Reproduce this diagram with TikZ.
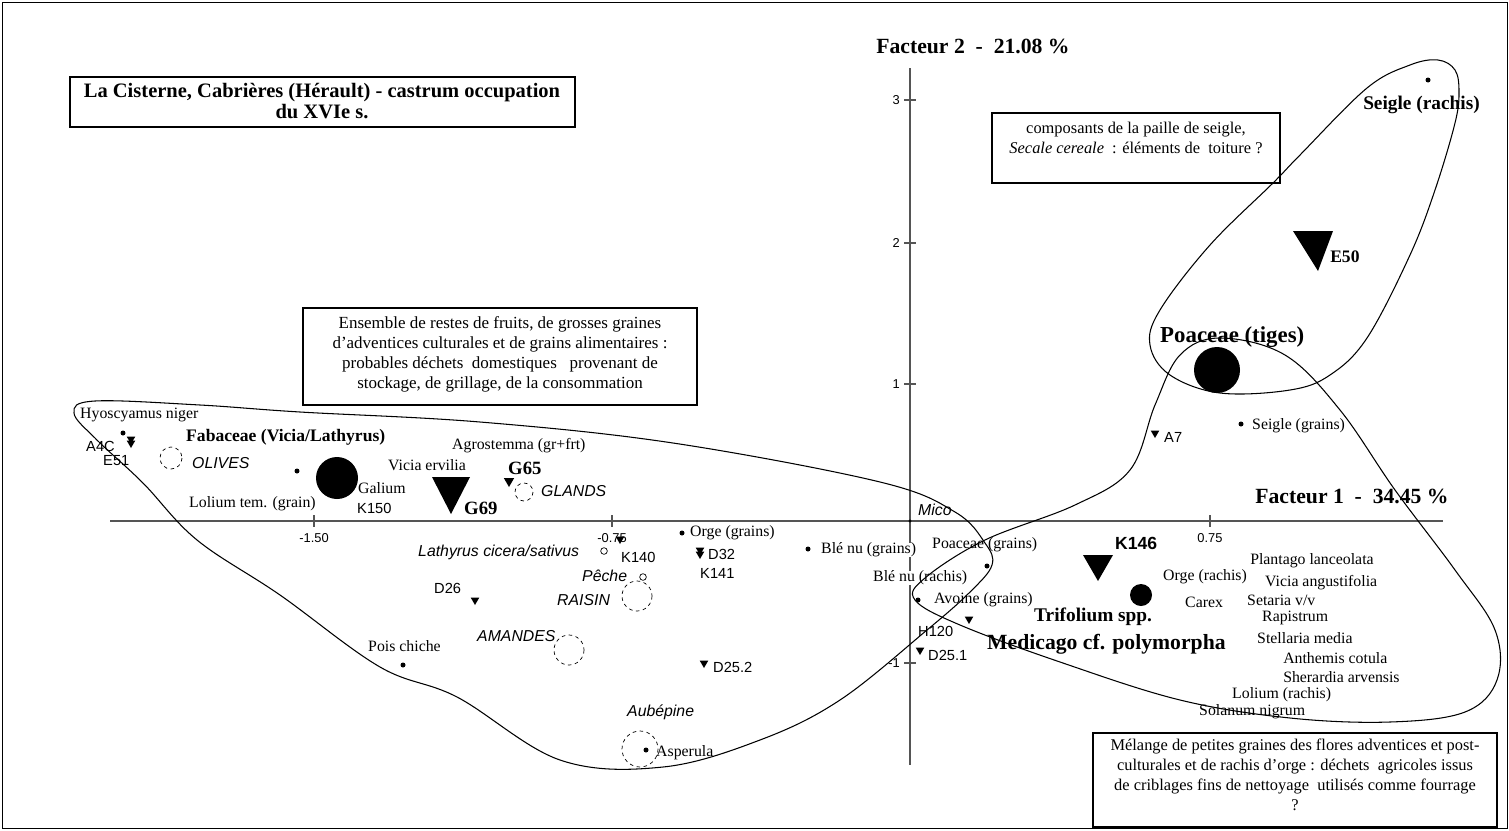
\documentclass[tikz,border=0pt]{standalone}
\usepackage{fontspec}
\setmainfont{Liberation Serif}
\setsansfont{Liberation Sans}
\usetikzlibrary{shapes.geometric}
\definecolor{axisgray}{RGB}{85,85,85}

\tikzset{
  axis/.style={draw=axisgray, line width=1.5pt},
  grp/.style={draw=black, line width=0.9pt},
  boxline/.style={draw=black, line width=0.9pt},
  lab/.style={anchor=west, inner sep=0pt, font=\fontsize{13.5}{15}\selectfont},
  slab/.style={anchor=west, inner sep=0pt, font=\sffamily\fontsize{12.5}{14}\selectfont},
  ilab/.style={anchor=west, inner sep=0pt, font=\sffamily\itshape\fontsize{13.5}{15}\selectfont},
  sblab/.style={anchor=west, inner sep=0pt, font=\sffamily\bfseries\fontsize{15}{17}\selectfont},
  glab/.style={anchor=west, inner sep=0pt, font=\bfseries\fontsize{#1}{#1}\selectfont},
  tick/.style={inner sep=0pt, font=\sffamily\fontsize{11}{13}\selectfont},
  boxtext/.style={inner sep=0pt, align=center, font=\fontsize{14}{17}\selectfont},
  dot/.style={circle, fill, inner sep=0pt, minimum size=0.15cm},
  ring/.style={circle, draw, line width=0.6pt, inner sep=0pt, minimum size=0.2cm},
  tri/.style={regular polygon, regular polygon sides=3, shape border rotate=180,
    fill, inner sep=0pt, minimum size=0.3cm},
  fruit/.style={draw, dashed, line width=0.6pt}
}

\begin{document}
\begin{tikzpicture}[x=0.03cm, y=-0.03cm]
\useasboundingbox (0,0) rectangle (1509,830);
% cadre
\draw[line width=0.8pt] (2,2) rectangle (1507,828);

% axes
\draw[axis] (110,521) -- (1443,521);
\draw[axis] (910,68) -- (910,765);
\foreach \x/\t in {314/-1.50, 612/-0.75, 1210/0.75} {
  \draw[axis] (\x,515) -- (\x,527);
  \node[tick] (tx\x) at (\x,538) {\t};
}
\foreach \y/\t in {100/3, 243/2, 384/1, 663/-1} {
  \draw[axis] (904,\y) -- (916,\y);
  \node[tick, anchor=east] (ty\y) at (900,\y) {\t};
}
\node[glab=18.5, anchor=center] (f1) at (1352,496) {Facteur 1 \ - \ 34.45 \%};
\node[glab=18.5, anchor=center] (f2) at (973,46) {Facteur 2 \ - \ 21.08 \%};

% cadres de texte
\draw[boxline] (70,77) rectangle (575,127);
\node[boxtext, font=\bfseries\fontsize{17.5}{17.5}\selectfont] (titre) at (322,101)
  {La Cisterne, Cabrières (Hérault) - castrum occupation\\du XVIe s.};
\draw[boxline] (992,113) rectangle (1280,183);
\node[boxtext] (txt-seigle) at (1136,138)
  {composants de la paille de seigle,\\\textit{Secale cereale} \ : éléments de \ toiture ?};
\draw[boxline] (303,308) rectangle (697,405);
\node[boxtext, font=\fontsize{14.5}{17}\selectfont] (txt-fruits) at (500,354)
  {Ensemble de restes de fruits, de grosses graines\\d'adventices culturales et de grains alimentaires :\\probables déchets \ domestiques \ \ provenant de\\stockage, de grillage, de la consommation};
\draw[boxline] (1093,733) rectangle (1497,827);
\node[boxtext] (txt-orge) at (1295,775)
  {Mélange de petites graines des flores adventices et post-\\culturales et de rachis d'orge : déchets \ agricoles issus\\de criblages fins de nettoyage \ utilisés comme fourrage\\?};

% groupe de gauche
\node[lab] (hyos) at (80,415) {Hyoscyamus niger};
\node[dot] (p-hyos) at (123,433) {};
\node[tri] (m-a4c) at (131,439) {};
\node[tri] (m-e51) at (131,443) {};
\node[slab] (a4c) at (86,446) {A4C};
\node[slab] (e51) at (103,461) {E51};
\draw[fruit] (171,458) circle (11);
\node[ilab] (olives) at (192,463) {OLIVES};
\node[glab=15] (fabaceae) at (186,437) {Fabaceae (Vicia/Lathyrus)};
\node[dot] (p-loltem) at (297,471) {};
\fill (337,478) circle (21);
\node[lab] (galium) at (358,488) {Galium};
\node[slab] (k150) at (357,508) {K150};
\node[lab] (loltem) at (189,504) {Lolium tem. (grain)};
\node[lab] (ervilia) at (388,465) {Vicia ervilia};
\node[lab] (agrost) at (452,446) {Agrostemma (gr+frt)};
\fill (432,477) -- (470,477) -- (451,514) -- cycle;
\node[glab=16] (g69) at (464,508) {G69};
\node[glab=16] (g65) at (508,468) {G65};
\node[tri, minimum size=0.36cm] (m-g65) at (509,481) {};
\draw[fruit] (524,492) circle (9);
\node[ilab] (glands) at (541,491) {GLANDS};
\node[tri] (m-k140) at (620,539) {};
\node[slab] (k140) at (621,557) {K140};
\node[ring] (p-lathyrus) at (604,551) {};
\node[ilab] (lathyrus) at (418,552) {Lathyrus cicera/sativus};
\node[ilab] (peche) at (582,576) {Pêche};
\node[ring] (p-peche) at (643,577) {};
\draw[fruit] (637,596) circle (15);
\node[ilab] (raisin) at (557,600) {RAISIN};
\node[slab] (d26) at (434,588) {D26};
\node[tri] (m-d26) at (475,600) {};
\node[ilab] (amandes) at (477,636) {AMANDES};
\draw[fruit] (569,650) circle (15);
\node[lab] (poisch) at (368,646) {Pois chiche};
\node[dot] (p-poisch) at (403,665) {};
\node[tri] (m-d252) at (704,663) {};
\node[slab] (d252) at (713,667) {D25.2};
\node[ilab] (aubep) at (627,712) {Aubépine};
\draw[fruit] (640,749) circle (18);
\node[dot] (p-asper) at (646,750) {};
\node[lab] (asper) at (656,753) {Asperula};

% autour de l'origine
\node[dot] (p-orge) at (682,533) {};
\node[lab] (orge) at (690,533) {Orge (grains)};
\node[tri] (m-d32a) at (700,550) {};
\node[tri] (m-d32) at (700,554) {};
\node[slab] (d32) at (708,554) {D32};
\node[slab] (k141) at (700,573) {K141};
\node[dot] (p-blegr) at (808,549) {};
\node[lab, fill=white] (blegr) at (821,550) {Blé nu (grains)};
\node[ilab] (mico) at (918,510) {Mico};
\node[dot, minimum size=0.1cm] (p-mico) at (910,521) {};
\node[lab] (poagr) at (932,545) {Poaceae (grains)};
\node[dot] (p-poagr) at (987,566) {};
\node[lab, fill=white] (blerach) at (873,578) {Blé nu (rachis)};
\node[dot] (p-avoine) at (918,600) {};
\node[lab] (avoine) at (934,600) {Avoine (grains)};
\node[tri] (m-h120) at (969,619) {};
\node[slab] (h120) at (918,631) {H120};
\node[tri] (m-d251) at (920,650) {};
\node[slab] (d251) at (928,655) {D25.1};

% groupe seigle
\node[dot] (p-seigrach) at (1428,80) {};
\node[glab=16.5] (seigrach) at (1363,105) {Seigle (rachis)};
\fill (1293,231) -- (1333,231) -- (1318,271) -- cycle;
\node[glab=15] (e50) at (1330,257) {E50};
\node[glab=19.5] (poatiges) at (1160,337) {Poaceae (tiges)};
\fill (1217,370) circle (23);
\node[dot] (p-seiggr) at (1241,424) {};
\node[lab] (seiggr) at (1252,426) {Seigle (grains)};
\node[tri] (m-a7) at (1155,433) {};
\node[slab] (a7) at (1164,437) {A7};

% groupe orge
\node[sblab] (k146) at (1115,543) {K146};
\fill (1083,555) -- (1113,555) -- (1098,581) -- cycle;
\fill (1141,595) circle (11);
\node[lab] (orgerach) at (1163,577) {Orge (rachis)};
\node[lab] (carex) at (1185,602) {Carex};
\node[glab=16.5] (trifol) at (1034,617) {Trifolium spp.};
\node[glab=18.5] (medic) at (987,644) {Medicago cf. polymorpha};
\node[lab] (plantago) at (1250,561) {Plantago lanceolata};
\node[lab] (vangust) at (1265,583) {Vicia angustifolia};
\node[lab] (setaria) at (1247,600) {Setaria v/v};
\node[lab] (rapis) at (1262,618) {Rapistrum};
\node[lab] (stell) at (1257,638) {Stellaria media};
\node[lab] (anthem) at (1283,658) {Anthemis cotula};
\node[lab] (sherard) at (1283,677) {Sherardia arvensis};
\node[lab] (lolrach) at (1232,695) {Lolium (rachis)};
\node[lab] (solanum) at (1199,712) {Solanum nigrum};

% contours des groupes
\draw[grp] plot[smooth cycle, tension=0.6] coordinates {(74,413) (95,401) (200,405)
  (300,412) (480,422) (673,443) (880,482) (955,512) (985,543) (992,565) (970,592)
  (927,630) (840,700) (760,740) (663,767) (560,760) (457,697) (380,667) (280,595)
  (197,540) (143,483) (97,440)};
\draw[grp] plot[smooth cycle, tension=0.6] coordinates {(1438,60) (1455,70) (1459,92)
  (1455,123) (1435,190) (1410,255) (1367,338) (1330,375) (1290,390) (1220,393)
  (1170,375) (1150,345) (1160,310) (1210,245) (1273,183) (1300,155) (1367,88)
  (1410,65)};
\draw[grp] plot[smooth cycle, tension=0.6] coordinates {(1220,338) (1285,355) (1340,410)
  (1395,490) (1455,570) (1495,630) (1497,680) (1465,712) (1390,722) (1290,718)
  (1180,700) (1060,662) (960,625) (915,600) (925,578) (985,540) (1075,505)
  (1130,470) (1155,405) (1180,355)};
\end{tikzpicture}
\end{document}
